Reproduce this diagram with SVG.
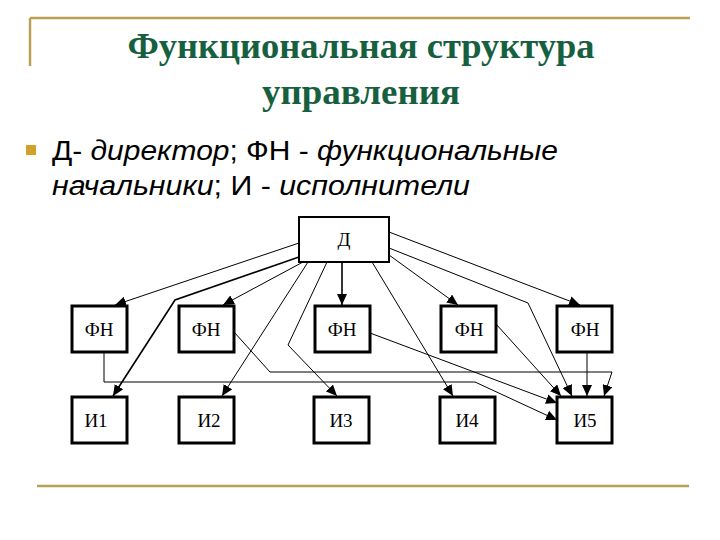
<svg xmlns="http://www.w3.org/2000/svg" width="720" height="540" viewBox="0 0 720 540">
<defs>
<marker id="ah" markerUnits="userSpaceOnUse" markerWidth="11" markerHeight="10" refX="11" refY="5" orient="auto">
<path d="M0,0 L11,5 L0,10 z" fill="#000"/>
</marker>
<style>
.frame{stroke:#b8a055;stroke-width:2.5;fill:none}
.title{font-family:"Liberation Serif",serif;font-weight:bold;font-size:35px;fill:#17603f;text-anchor:middle}
.body{font-family:"Liberation Sans",Arial,sans-serif;font-size:27px;fill:#000}
.it{font-style:italic}
.box{fill:#fff;stroke:#000;stroke-width:3}
.dbox{fill:#fff;stroke:#000;stroke-width:2}
.lbl{font-family:"Liberation Serif",serif;font-size:19px;fill:#000;text-anchor:middle}
.c{fill:none;stroke:#000;stroke-width:1;marker-end:url(#ah)}
.c2{fill:none;stroke:#000;stroke-width:1.6;marker-end:url(#ah)}
</style>
</defs>
<rect width="720" height="540" fill="#fff"/>
<g id="frame">
<line class="frame" x1="30" y1="18" x2="690" y2="18"/>
<line class="frame" x1="30" y1="18" x2="30" y2="66"/>
<line class="frame" x1="37" y1="486" x2="689" y2="486"/>
</g>
<g id="title">
<text class="title" x="361" y="58" textLength="467" lengthAdjust="spacingAndGlyphs">Функциональная структура</text>
<text class="title" x="361" y="104" textLength="198" lengthAdjust="spacingAndGlyphs">управления</text>
</g>
<g id="legend">
<rect x="26" y="145" width="10" height="10" fill="#d0a22c"/>
<text class="body" x="52" y="160" textLength="506" lengthAdjust="spacingAndGlyphs">Д- <tspan class="it">директор</tspan>; ФН - <tspan class="it">функциональные</tspan></text>
<text class="body" x="52" y="195" textLength="418" lengthAdjust="spacingAndGlyphs"><tspan class="it">начальники</tspan>; И - <tspan class="it">исполнители</tspan></text>
</g>
<g id="connectors">
<path class="c" d="M299,243 L115,305"/>
<path class="c2" d="M299,257 L175,300 L113,396"/>
<path class="c" d="M303,262 L223,305"/>
<path class="c" d="M308,262 L222,396"/>
<path class="c" d="M327,262 L288,345 L337,396"/>
<path class="c2" d="M342,262 L342,305"/>
<path class="c" d="M372,262 L453,396"/>
<path class="c" d="M389,255 L458,305"/>
<path class="c" d="M389,248 L528,303 L572,396"/>
<path class="c" d="M389,232 L580,305"/>
<path class="c" d="M104,352 L104,382 L475,382 L557,420"/>
<path class="c" d="M234,332 L270,372 L612,372 L604,396"/>
<path class="c" d="M370,333 L557,403"/>
<path class="c" d="M496,324 L561,396"/>
<path class="c" d="M587,352 L587,396"/>
</g>
<g id="D"><rect class="dbox" x="299" y="217" width="90" height="45"/><text class="lbl" x="344" y="246">Д</text></g>
<g id="FN1"><rect class="box" x="72" y="306" width="55" height="46"/><text class="lbl" x="99" y="336">ФН</text></g>
<g id="FN2"><rect class="box" x="179" y="306" width="55" height="46"/><text class="lbl" x="206" y="336">ФН</text></g>
<g id="FN3"><rect class="box" x="315" y="306" width="55" height="46"/><text class="lbl" x="342" y="336">ФН</text></g>
<g id="FN4"><rect class="box" x="441" y="306" width="55" height="46"/><text class="lbl" x="469" y="336">ФН</text></g>
<g id="FN5"><rect class="box" x="557" y="306" width="55" height="46"/><text class="lbl" x="585" y="336">ФН</text></g>
<g id="I1"><rect class="box" x="72" y="397" width="55" height="46"/><text class="lbl" x="96" y="427">И1</text></g>
<g id="I2"><rect class="box" x="179" y="397" width="55" height="46"/><text class="lbl" x="209" y="427">И2</text></g>
<g id="I3"><rect class="box" x="314" y="397" width="55" height="46"/><text class="lbl" x="341" y="427">И3</text></g>
<g id="I4"><rect class="box" x="440" y="397" width="55" height="46"/><text class="lbl" x="467" y="427">И4</text></g>
<g id="I5"><rect class="box" x="557" y="397" width="55" height="46"/><text class="lbl" x="585" y="427">И5</text></g>
</svg>
